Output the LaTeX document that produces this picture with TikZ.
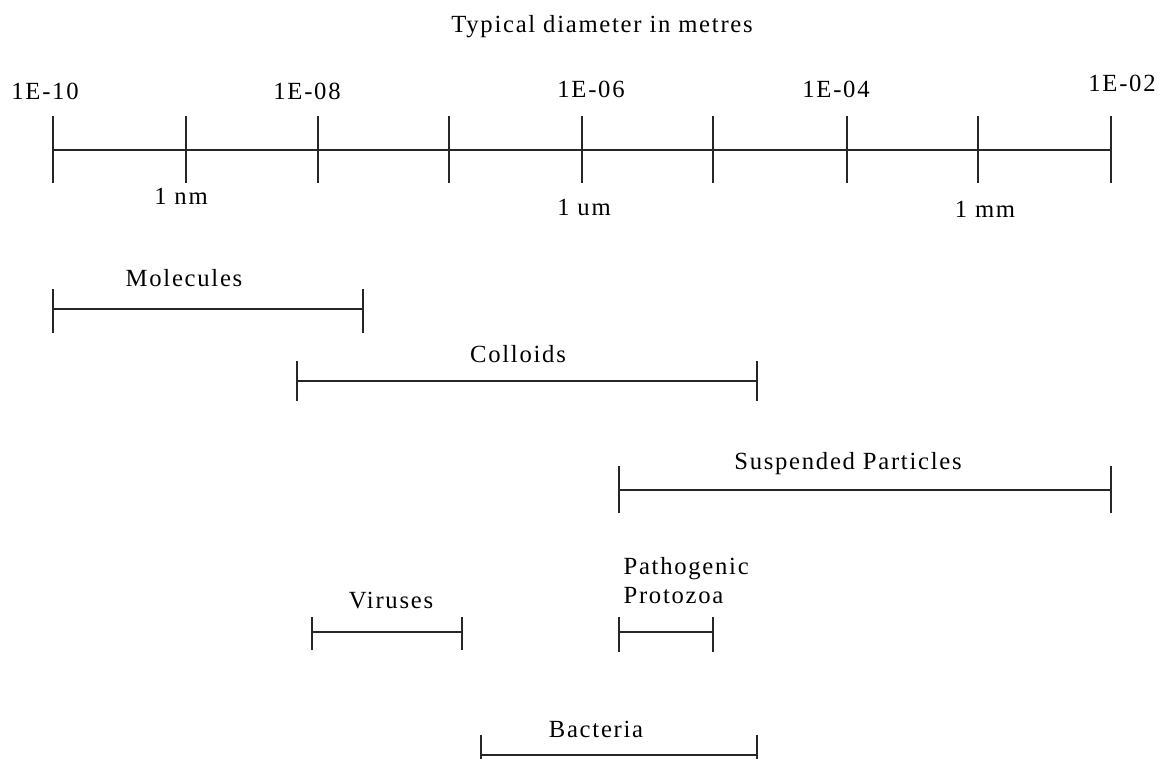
\documentclass[tikz,border=0pt]{standalone}
\usepackage{fontspec}
\setmainfont{Liberation Serif}[LetterSpace=7]
\usepackage{tikz}
\usetikzlibrary{positioning}

\begin{document}
\begin{tikzpicture}[x=0.75pt,y=-0.75pt,line width=0.9pt,
    lbl/.style={anchor=base,inner sep=0pt,font=\fontsize{18.5}{22}\selectfont},
    bar/.style={draw=black!85}]
    \useasboundingbox (0,0) rectangle (1162,758);
    \node[lbl] (ttl) at (602,32) {Typical diameter in metres};
    % scale
    \draw[bar] (53,150) -- (1111,150);
    \draw[bar] (53,116) -- (53,183);
    \draw[bar] (186,116) -- (186,183);
    \draw[bar] (318,116) -- (318,183);
    \draw[bar] (449,116) -- (449,183);
    \draw[bar] (582,116) -- (582,183);
    \draw[bar] (713,116) -- (713,183);
    \draw[bar] (847,116) -- (847,183);
    \draw[bar] (978,116) -- (978,183);
    \draw[bar] (1111,116) -- (1111,183);
    \node[lbl] (e10) at (45,99) {1E-10};
    \node[lbl] (e08) at (307,99) {1E-08};
    \node[lbl] (e06) at (591,97) {1E-06};
    \node[lbl] (e04) at (836,97) {1E-04};
    \node[lbl] (e02) at (1122,91) {1E-02};
    \node[lbl] (nm) at (181,204) {1 nm};
    \node[lbl] (um) at (584,215) {1 um};
    \node[lbl] (mm) at (985,217) {1 mm};
    % size ranges
    \draw[bar] (53,309) -- (363,309);
    \draw[bar] (53,289) -- (53,333);
    \draw[bar] (363,289) -- (363,333);
    \node[lbl] (mol) at (184,286) {Molecules};
    \draw[bar] (297,381) -- (757,381);
    \draw[bar] (297,361) -- (297,401);
    \draw[bar] (757,361) -- (757,401);
    \node[lbl] (col) at (518,362) {Colloids};
    \draw[bar] (619,490) -- (1111,490);
    \draw[bar] (619,466) -- (619,513);
    \draw[bar] (1111,466) -- (1111,513);
    \node[lbl] (sus) at (848,469) {Suspended Particles};
    \draw[bar] (312,632) -- (462,632);
    \draw[bar] (312,617) -- (312,650);
    \draw[bar] (462,617) -- (462,650);
    \node[lbl] (vir) at (391,608) {Viruses};
    \draw[bar] (619,632) -- (713,632);
    \draw[bar] (619,617) -- (619,652);
    \draw[bar] (713,617) -- (713,652);
    \node[lbl,anchor=base west] (pth) at (623,574) {Pathogenic};
    \node[lbl,anchor=base west] (prz) at (623,603) {Protozoa};
    \draw[bar] (481,755) -- (757,755);
    \draw[bar] (481,735) -- (481,775);
    \draw[bar] (757,735) -- (757,775);
    \node[lbl] (bac) at (596,737) {Bacteria};
\end{tikzpicture}
\end{document}
